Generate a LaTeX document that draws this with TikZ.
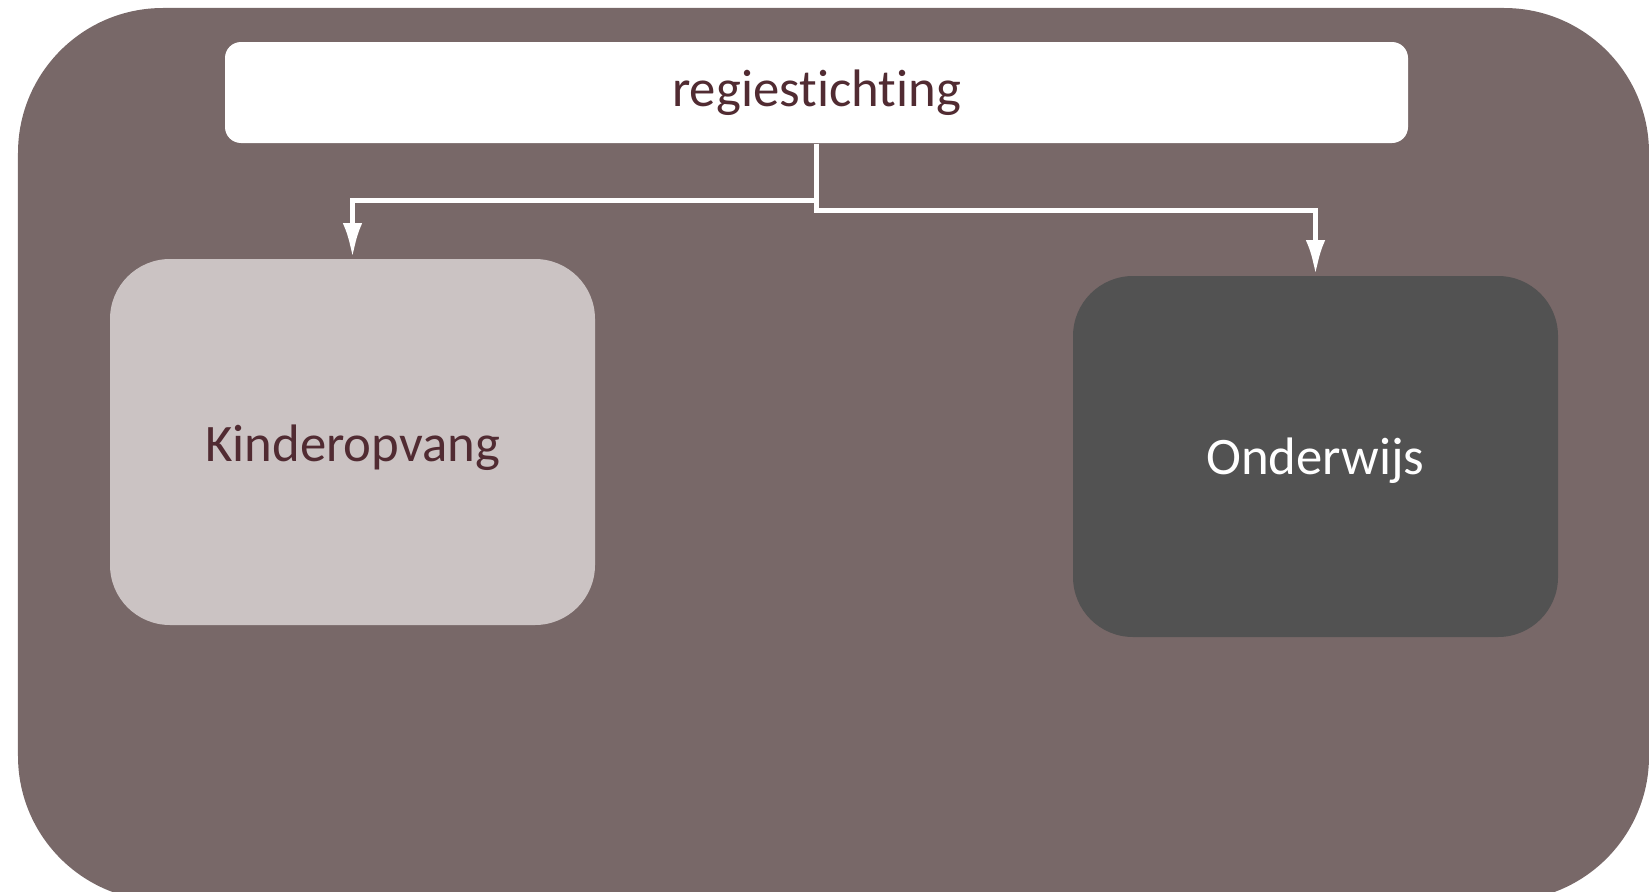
\documentclass[tikz,border=0pt]{standalone}
\usepackage{fontspec}
\setmainfont{Carlito}[Ligatures={NoCommon,NoRequired}]
\usetikzlibrary{arrows.meta}

\definecolor{achter}{HTML}{786868}
\definecolor{kindkleur}{HTML}{CBC3C3}
\definecolor{ondkleur}{HTML}{525252}
\definecolor{tekst}{HTML}{512B32}

\tikzset{
  blok/.style={rounded corners=0.6cm, minimum width=4.85cm, inner sep=0pt,
    text depth=0pt, font=\fontsize{15}{18}\selectfont},
  verbind/.style={draw=white, line width=1.5pt,
    -{Latex[length=10pt, width=5.5pt]}}
}

\begin{document}
\begin{tikzpicture}
			\useasboundingbox (0,0) rectangle (16.49,8.91);
			\fill[achter, rounded corners=1.45cm] (0.18,-0.1) rectangle (16.49,8.83);
			%%%%%%%%%%%%%%%%%%%%%%%%%%%%%%%%
			\node[fill=white, rounded corners=0.16cm, minimum width=11.83cm, minimum height=1.01cm,
				inner sep=0pt, text=tekst, font=\fontsize{15}{18}\selectfont] (regie) at (8.165,7.985) {regiestichting};
			\node[blok, fill=kindkleur, minimum height=3.66cm, text=tekst] (kind) at (3.525,4.49) {\raisebox{-0.9pt}{Kinderopvang}};
			\node[blok, fill=ondkleur, minimum height=3.61cm, text=white] (ond) at (13.155,4.345) {Onderwijs};
			%%%%%%%%%%%%%%%%%%%%%%%%%%%%%
			\draw[verbind] (regie.south) -- ++(0,-0.57) -| (kind.north);
			\draw[verbind] (regie.south) -- ++(0,-0.67) -| (ond.north);
		\end{tikzpicture}
\end{document}
